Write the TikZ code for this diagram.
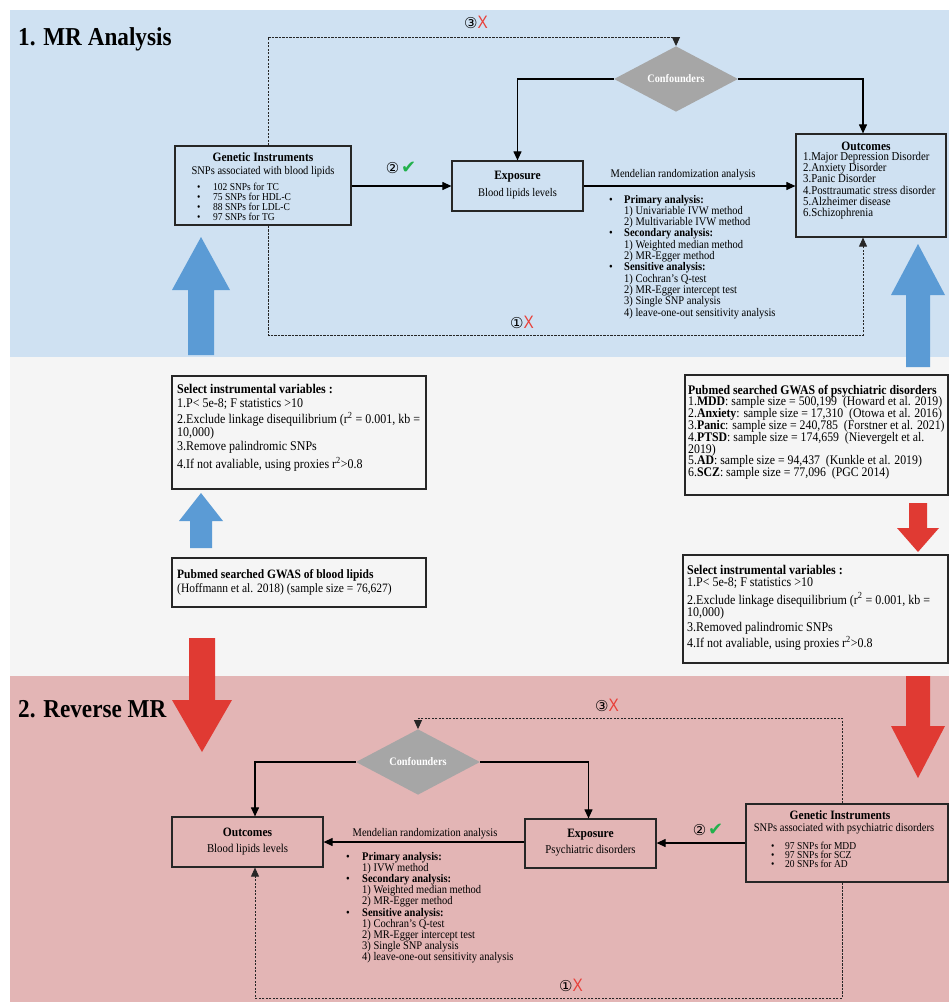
\documentclass[tikz,border=0pt]{standalone}
\usepackage{fontspec}
\setmainfont{Liberation Serif}[FakeStretch=0.9]
\newfontfamily\symf{DejaVu Sans}
\newfontfamily\sansf{Liberation Sans}[FakeStretch=0.85]
\usetikzlibrary{arrows.meta,shapes.geometric,calc}
\definecolor{bgblue}{HTML}{CFE1F2}
\definecolor{bggray}{HTML}{F5F5F5}
\definecolor{bgpink}{HTML}{E3B5B5}
\definecolor{arrblue}{HTML}{5B9BD5}
\definecolor{arrred}{HTML}{E03A33}
\definecolor{confgray}{HTML}{A6A6A6}
\definecolor{okgreen}{HTML}{22B14C}
\definecolor{xred}{HTML}{E8403A}
\newcommand\markbad[1]{{\symf\fontsize{15}{15}\selectfont #1}{\sansf\fontsize{18}{18}\selectfont\color{xred}X}}
\newcommand\markok[1]{{\symf\fontsize{15}{15}\selectfont #1}\,{\symf\fontsize{18}{18}\selectfont\color{okgreen}✔}}
\newcommand\blockarrow[7]{%
\fill[#1] ({#2-#6},#3) -- ({#2-#6},#4) -- ({#2-#7},#4) -- (#2,#5) -- ({#2+#7},#4) -- ({#2+#6},#4) -- ({#2+#6},#3) -- cycle;}
\begin{document}
\begin{tikzpicture}[x=1pt,y=-1pt,
 box/.style={draw=black!85,line width=1.2pt,inner sep=0pt},
 conn/.style={draw=black,line width=1.1pt,-{Triangle[length=9pt,width=8pt]}},
 dconn/.style={draw=black!85,line width=0.9pt,dash pattern=on 2.4pt off 1.1pt,-{Triangle[length=9pt,width=8pt]}},
 fs/.style={font={\pgfmathsetmacro\fsz{#1/0.9}\fontsize{\fsz}{\fsz}\selectfont}},
 bf/.style={font={\pgfmathsetmacro\fsz{#1/0.9}\fontsize{\fsz}{\fsz}\selectfont\bfseries}},
 tl/.style={inner sep=0pt,anchor=base west},
 tc/.style={inner sep=0pt,anchor=base},
 conf/.style={diamond,fill=confgray,minimum width=124pt,minimum height=40pt,inner sep=0pt,text=white,bf=10.3}
]
\useasboundingbox (0,0) rectangle (949,1002);
% backgrounds
\fill[bgblue] (10,10) rectangle (949,357);
\fill[bggray] (10,357) rectangle (949,676);
\fill[bgpink] (10,676) rectangle (949,1002);

% block arrows
\blockarrow{arrblue}{201}{355}{290}{237}{13}{29}
\blockarrow{arrblue}{918}{367}{295}{244}{12}{27}
\blockarrow{arrblue}{201}{548}{521}{493}{11}{22}
\blockarrow{arrred}{202}{638}{700}{752}{13}{30}
\blockarrow{arrred}{918}{503}{528}{552}{9}{21}
\blockarrow{arrred}{918}{676}{726}{778}{12}{27}

% ================= section 1 =================
\node[tl,bf=23.2] (title1) at (18,45) {1. MR Analysis};

\node[box,minimum width=176pt,minimum height=79pt] (gi1) at (263,185.5) {};
\node[tc,bf=11.5] (gi1t) at (263,161) {Genetic Instruments};
\node[tc,fs=10.5] (gi1s) at (263,174) {SNPs associated with blood lipids};
\foreach \t [count=\i] in {102 SNPs for TC, 75 SNPs for HDL-C, 88 SNPs for LDL-C, 97 SNPs for TG}{
  \node[tl,fs=9.5] (gi1l-\i) at (213,{190.5+(\i-1)*10}) {\t};
  \node[tl,fs=9.5] (gi1b-\i) at (197,{190.5+(\i-1)*10}) {•};
}

\node[box,minimum width=131pt,minimum height=50pt] (exp1) at (517.5,186) {};
\node[tc,bf=11.5] (exp1t) at (517.5,179) {Exposure};
\node[tc,fs=10.5] (exp1s) at (517.5,196.5) {Blood lipids levels};

\node[box,minimum width=150pt,minimum height=103pt] (out1) at (871,185.5) {};
\node[tc,bf=11.5] (out1t) at (866,150) {Outcomes};
\foreach \t [count=\i] in {1.Major Depression Disorder, 2.Anxiety Disorder, 3.Panic Disorder, 4.Posttraumatic stress disorder, 5.Alzheimer disease, 6.Schizophrenia}{
  \node[tl,fs=10.8] (out1l-\i) at (803,{160.5+(\i-1)*11.2}) {\t};
}

\node[conf] (conf1) at (676,79) {Confounders};

\draw[conn] (gi1.east |- exp1.west) -- (exp1.west);
\node (ok1) at (401,168) {\markok{②}};
\draw[conn] (exp1.east) -- (exp1.east -| out1.west);
\node[fs=10.5] (mr1) at (683,175) {Mendelian randomization analysis};
\draw[conn] (conf1.west) -| (exp1.north);
\draw[conn] (conf1.east) -| ([xshift=-8pt]out1.north);

\coordinate (t3a) at (0,37);
\coordinate (b1a) at (0,335);
\draw[dconn] ([xshift=5pt]gi1.north) -- ([xshift=5pt]gi1.north |- t3a) -| (conf1.north);
\node (bad3a) at (476,22) {\markbad{③}};
\draw[dconn] ([xshift=5pt]gi1.south) -- ([xshift=5pt]gi1.south |- b1a) -| ([xshift=-8pt]out1.south);
\node (bad1a) at (522,322) {\markbad{①}};

\foreach \t [count=\i] in {{\textbf{Primary analysis:}}, 1) Univariable IVW method, 2) Multivariable IVW method, {\textbf{Secondary analysis:}}, 1) Weighted median method, 2) MR-Egger method, {\textbf{Sensitive analysis:}}, 1) Cochran’s Q-test, 2) MR-Egger intercept test, 3) Single SNP analysis, 4) leave-one-out sensitivity analysis}{
  \node[tl,fs=10.5] (ana1-\i) at (624,{203+(\i-1)*11.3}) {\t};
}
\foreach \i in {1,4,7}{
  \node[tl,fs=10.5] (ana1b-\i) at (609,{203+(\i-1)*11.3}) {•};
}

% ================= middle =================
\node[box,minimum width=254pt,minimum height=113pt] (sel1) at (299,432.5) {};
\node[tl,bf=12] (sel1-1) at (177,393) {Select instrumental variables :};
\node[tl,fs=12] (sel1-2) at (177,407) {1.P< 5e-8; F statistics >10};
\node[tl,fs=12] (sel1-3) at (177,423.5) {2.Exclude linkage disequilibrium (r\textsuperscript{2} = 0.001, kb =};
\node[tl,fs=12] (sel1-4) at (177,436) {10,000)};
\node[tl,fs=12] (sel1-5) at (177,450.5) {3.Remove palindromic SNPs};
\node[tl,fs=12] (sel1-6) at (177,468.5) {4.If not avaliable, using proxies r\textsuperscript{2}>0.8};

\node[box,minimum width=254pt,minimum height=49pt] (pub1) at (299,582.5) {};
\node[tl,bf=11.5] (pub1-1) at (177,578.5) {Pubmed searched GWAS of blood lipids};
\node[tl,fs=11.5] (pub1-2) at (177,592.5) {(Hoffmann et al. 2018) (sample size = 76,627)};

\node[box,minimum width=263pt,minimum height=120pt] (pub2) at (816.5,435) {};
\node[tl,bf=11.8] (pub2-0) at (688,394) {Pubmed searched GWAS of psychiatric disorders};
\node[tl,fs=11.8] (pub2-1) at (688,405.8) {1.\textbf{MDD}: sample size = 500,199\ \ (Howard et al. 2019)};
\node[tl,fs=11.8] (pub2-2) at (688,417.6) {2.\textbf{Anxiety}: sample size = 17,310\ \ (Otowa et al. 2016)};
\node[tl,fs=11.8] (pub2-3) at (688,429.4) {3.\textbf{Panic}: sample size = 240,785\ \ (Forstner et al. 2021)};
\node[tl,fs=11.8] (pub2-4) at (688,441.2) {4.\textbf{PTSD}: sample size = 174,659\ \ (Nievergelt et al.};
\node[tl,fs=11.8] (pub2-5) at (688,453) {2019)};
\node[tl,fs=11.8] (pub2-6) at (688,464.8) {5.\textbf{AD}: sample size = 94,437\ \ (Kunkle et al. 2019)};
\node[tl,fs=11.8] (pub2-7) at (688,476.6) {6.\textbf{SCZ}: sample size = 77,096\ \ (PGC 2014)};

\node[box,minimum width=265pt,minimum height=108pt] (sel2) at (815.5,609) {};
\node[tl,bf=12] (sel2-1) at (687,574) {Select instrumental variables :};
\node[tl,fs=12] (sel2-2) at (687,586.5) {1.P< 5e-8; F statistics >10};
\node[tl,fs=12] (sel2-3) at (687,604) {2.Exclude linkage disequilibrium (r\textsuperscript{2} = 0.001, kb =};
\node[tl,fs=12] (sel2-4) at (687,616.5) {10,000)};
\node[tl,fs=12] (sel2-5) at (687,631.5) {3.Removed palindromic SNPs};
\node[tl,fs=12] (sel2-6) at (687,647.5) {4.If not avaliable, using proxies r\textsuperscript{2}>0.8};

% ================= section 2 =================
\node[tl,bf=23.2] (title2) at (18,717) {2. Reverse MR};

\node[box,minimum width=151pt,minimum height=50pt] (out2) at (247.5,842) {};
\node[tc,bf=11.5] (out2t) at (247.5,836) {Outcomes};
\node[tc,fs=10.8] (out2s) at (247.5,852.5) {Blood lipids levels};

\node[box,minimum width=131pt,minimum height=49pt] (exp2) at (590.5,843.5) {};
\node[tc,bf=11.5] (exp2t) at (590.5,837) {Exposure};
\node[tc,fs=10.8] (exp2s) at (590.5,853.5) {Psychiatric disorders};

\node[box,minimum width=202pt,minimum height=78pt] (gi2) at (847,843) {};
\node[tc,bf=11.5] (gi2t) at (840,819) {Genetic Instruments};
\node[tc,fs=10.5] (gi2s) at (844,831.5) {SNPs associated with psychiatric disorders};
\foreach \t [count=\i] in {97 SNPs for MDD, 97 SNPs for SCZ, 20 SNPs for AD}{
  \node[tl,fs=9.5] (gi2l-\i) at (785,{849.5+(\i-1)*9.2}) {\t};
  \node[tl,fs=9.5] (gi2b-\i) at (771,{849.5+(\i-1)*9.2}) {•};
}

\node[conf] (conf2) at (418,762) {Confounders};

\draw[conn] (gi2.west) -- (gi2.west -| exp2.east);
\node (ok2) at (708,830) {\markok{②}};
\draw[conn] (exp2.west |- out2.east) -- (out2.east);
\node[fs=10.5] (mr2) at (425,834) {Mendelian randomization analysis};
\draw[conn] (conf2.west) -| ([xshift=7.5pt]out2.north);
\draw[conn] (conf2.east) -| ([xshift=-2pt]exp2.north);

\coordinate (t3b) at (0,718);
\coordinate (b1b) at (0,998);
\draw[dconn] ([xshift=-5pt]gi2.north) -- ([xshift=-5pt]gi2.north |- t3b) -| (conf2.north);
\node (bad3b) at (607,705) {\markbad{③}};
\draw[dconn] ([xshift=-5pt]gi2.south) -- ([xshift=-5pt]gi2.south |- b1b) -| ([xshift=7.5pt]out2.south);
\node (bad1b) at (571,985) {\markbad{①}};

\foreach \t [count=\i] in {{\textbf{Primary analysis:}}, 1) IVW method, {\textbf{Secondary analysis:}}, 1) Weighted median method, 2) MR-Egger method, {\textbf{Sensitive analysis:}}, 1) Cochran’s Q-test, 2) MR-Egger intercept test, 3) Single SNP analysis, 4) leave-one-out sensitivity analysis}{
  \node[tl,fs=10.5] (ana2-\i) at (362,{860+(\i-1)*11.2}) {\t};
}
\foreach \i in {1,3,6}{
  \node[tl,fs=10.5] (ana2b-\i) at (346,{860+(\i-1)*11.2}) {•};
}
\end{tikzpicture}
\end{document}
